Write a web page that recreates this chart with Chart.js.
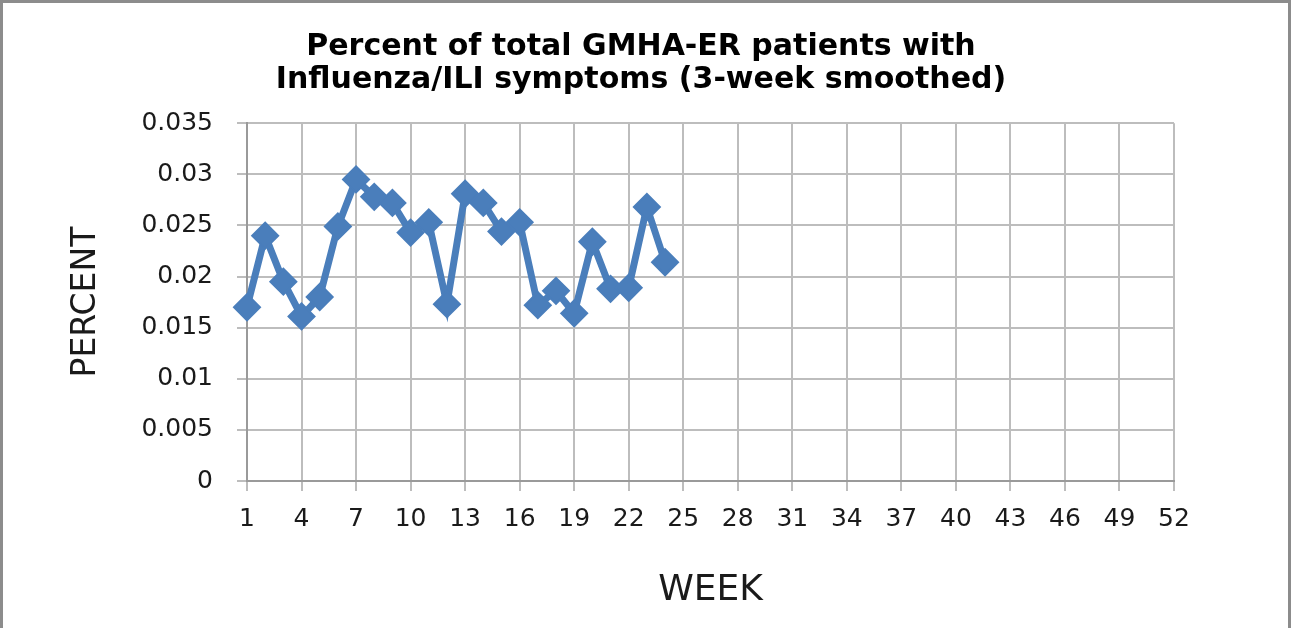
<!DOCTYPE html>
<html>
<head>
  <title>GMHA-ER Influenza/ILI</title>
  <style>
    html, body { margin: 0; padding: 0; background: #fff; overflow: hidden; }
    #wrap { position: relative; width: 1291px; height: 628px; }
    #frame { position: absolute; left: 0; top: 0; width: 1291px; height: 640px; box-sizing: border-box; border: 3px solid #8c8c8c; pointer-events: none; }
  </style>
</head>
<body>

  <div id="wrap">
    <canvas id="iliChart" width="1291" height="628"></canvas>
    <div id="frame"></div>
  </div>

  <script src="https://cdn.jsdelivr.net/npm/chart.js"></script>
  <script>
    // week numbers on the category axis (only every 3rd is labelled)
    const weeks = [
      '1', '2', '3', '4', '5', '6', '7', '8', '9', '10', '11', '12', '13',
      '14', '15', '16', '17', '18', '19', '20', '21', '22', '23', '24', '25', '26',
      '27', '28', '29', '30', '31', '32', '33', '34', '35', '36', '37', '38', '39',
      '40', '41', '42', '43', '44', '45', '46', '47', '48', '49', '50', '51', '52'
    ];

    // 3-week smoothed share of ER patients with influenza/ILI symptoms, weeks 1-24
    const percentIli = [
      0.0170, 0.0240, 0.0195, 0.0161, 0.0180, 0.0249, 0.0295, 0.0278,
      0.0272, 0.0243, 0.0253, 0.0173, 0.0281, 0.0272, 0.0244, 0.0253,
      0.0172, 0.0186, 0.0164, 0.0234, 0.0188, 0.0189, 0.0268, 0.0214
    ];

    const yMin = 0;
    const yMax = 0.035;
    const yStep = 0.005;

    const chartTitle = ['Percent of total GMHA-ER patients with', 'Influenza/ILI symptoms (3-week smoothed)'];
    const xTitle = 'WEEK';
    const yTitle = 'PERCENT';

    const lineBlue = '#4A7EBB';
    const gridGrey = '#bdbdbd';
    const axisGrey = '#9a9a9a';
    const textColor = '#1a1a1a';

    const ctx = document.getElementById('iliChart').getContext('2d');
    new Chart(ctx, {
      type: 'line',
      data: {
        labels: weeks,
        datasets: [{
          label: 'Percent',
          data: percentIli,
          borderColor: lineBlue,
          backgroundColor: lineBlue,
          borderWidth: 7,
          pointStyle: 'rectRot',
          pointRadius: 13,
          pointBorderWidth: 2,
          pointBackgroundColor: lineBlue,
          pointBorderColor: lineBlue,
          tension: 0,
          clip: false
        }]
      },
      options: {
        responsive: false,
        animation: false,
        layout: { padding: { left: 0, right: 9, top: 0, bottom: 0 } },
        plugins: {
          legend: { display: false },
          tooltip: { enabled: false },
          title: {
            display: true,
            text: chartTitle,
            color: '#000',
            font: { family: 'DejaVu Sans', size: 30, weight: 'bold', lineHeight: 1.12 },
            padding: { top: 30, bottom: 26 }
          }
        },
        scales: {
          x: {
            type: 'category',
            offset: false,
            afterFit: s => { s.height = 147; },
            grid: { color: gridGrey, lineWidth: 2, tickLength: 10, tickColor: gridGrey },
            border: { color: axisGrey, width: 2 },
            ticks: {
              autoSkip: false,
              maxRotation: 0,
              padding: 13,
              color: textColor,
              font: { family: 'DejaVu Sans', size: 25 },
              callback: (v, i) => (i % 3 === 0 ? weeks[i] : null)
            },
            title: {
              display: true,
              text: xTitle,
              color: textColor,
              font: { family: 'DejaVu Sans', size: 36 },
              padding: { top: 0, bottom: 16 }
            }
          },
          y: {
            min: yMin,
            max: yMax,
            afterFit: s => { s.width = 247; },
            grid: { color: gridGrey, lineWidth: 2, tickLength: 10, tickColor: gridGrey },
            border: { color: axisGrey, width: 2 },
            ticks: {
              stepSize: yStep,
              padding: 24,
              color: textColor,
              font: { family: 'DejaVu Sans', size: 25 },
              callback: v => String(+v.toFixed(3))
            },
            title: {
              display: true,
              text: yTitle,
              color: textColor,
              font: { family: 'DejaVu Sans', size: 33 },
              padding: { top: 67, bottom: 0 }
            }
          },
          // empty right-hand box so the plot ends where the reference does
          yRight: {
            position: 'right',
            min: 0,
            max: 1,
            afterFit: s => { s.width = 108; },
            grid: { display: false },
            border: { display: false },
            ticks: { display: false }
          }
        }
      }
    });
  </script>

</body>
</html>
